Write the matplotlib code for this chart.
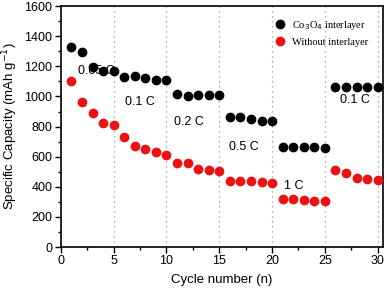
import matplotlib
matplotlib.use('Agg')
import matplotlib.pyplot as plt
from matplotlib.ticker import MultipleLocator

plt.rcParams['font.family'] = 'Liberation Sans'

cycles = list(range(1, 31))
co3o4 = [1330, 1297, 1197, 1166, 1166, 1127, 1133, 1120, 1109, 1109,
         1015, 1005, 1010, 1010, 1010, 865, 865, 852, 839, 839,
         666, 666, 666, 666, 657, 1064, 1064, 1064, 1064, 1064]
without = [1102, 961, 888, 825, 810, 732, 670, 651, 629, 611,
           560, 560, 516, 511, 505, 438, 438, 436, 430, 426,
           319, 316, 311, 305, 303, 511, 494, 456, 453, 445]

rate_labels = ['0.05 C', '0.1 C', '0.2 C', '0.5 C', '1 C', '0.1 C']
label_x = [1.6, 7.45, 12.1, 17.3, 22.05, 27.8]
label_y = [1167, 965, 832, 664, 405, 976]
label_ha = ['left', 'center', 'center', 'center', 'center', 'center']
dividers = [5, 10, 15, 20, 25, 30]

fig = plt.figure(figsize=(3.9, 2.9), dpi=100)
ax = fig.add_axes([0.156, 0.148, 0.826, 0.831])

for d in dividers:
    ax.axvline(d, color='#999999', linestyle=(0, (1, 3)), linewidth=0.9, zorder=1)

for t, x, y, ha in zip(rate_labels, label_x, label_y, label_ha):
    ax.text(x, y, t, ha=ha, va='center', fontsize=9, zorder=2)

ax.plot(cycles, co3o4, 'o', color='black', markersize=6, label='Co$_3$O$_4$ interlayer', zorder=3)
ax.plot(cycles, without, 'o', color='#ee1111', markersize=6, label='Without interlayer', zorder=3)

ax.set_xlim(0, 30.5)
ax.set_ylim(0, 1600)
ax.xaxis.set_major_locator(MultipleLocator(5))
ax.xaxis.set_minor_locator(MultipleLocator(2.5))
ax.yaxis.set_major_locator(MultipleLocator(200))
ax.yaxis.set_minor_locator(MultipleLocator(100))
ax.tick_params(which='major', direction='out', length=4, width=1, labelsize=9, pad=2)
ax.tick_params(which='minor', direction='out', length=2.5, width=1)
for s in ax.spines.values():
    s.set_linewidth(1.2)

ax.set_xlabel('Cycle number (n)', fontsize=9.5, labelpad=5)
ax.set_ylabel('Specific Capacity (mAh g$^{-1}$)', fontsize=9.5, labelpad=3)

ax.legend(loc='upper left', bbox_to_anchor=(0.635, 0.985), frameon=False,
          handlelength=1.0, handletextpad=0.7, labelspacing=0.5,
          prop={'family': 'Liberation Serif', 'size': 7.5})

fig.savefig('out.png', dpi=100)
